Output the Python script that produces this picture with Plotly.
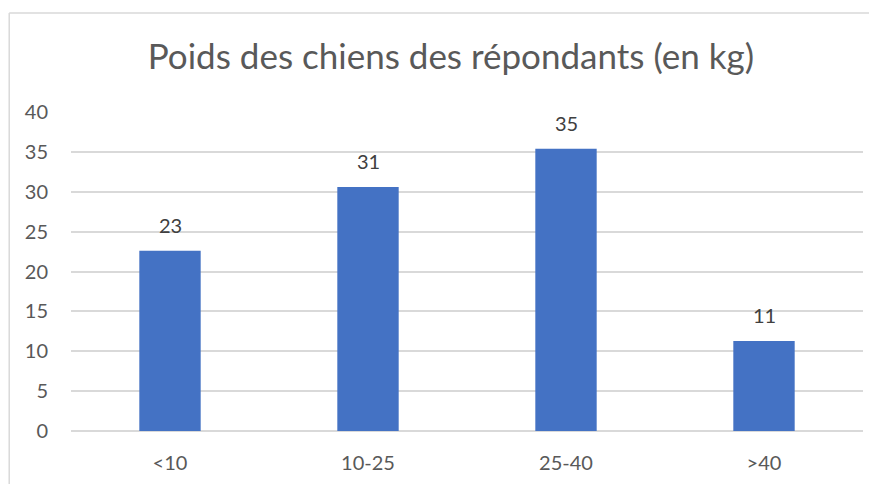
import plotly.graph_objects as go

categories = ["<10", "10-25", "25-40", ">40"]
values = [22.6, 30.6, 35.4, 11.3]
y_ticks = [0, 5, 10, 15, 20, 25, 30, 35, 40]

FONT = "Lato, Open Sans, sans-serif"

fig = go.Figure()
fig.add_trace(go.Bar(
    x=categories, y=values,
    marker=dict(color="#4472c4", line=dict(width=0)),
))

# data labels above each bar
for cat, val in zip(categories, values):
    fig.add_annotation(x=cat, y=val, text=f"{val:.0f}", showarrow=False,
                       yanchor="bottom", yshift=12,
                       font=dict(family=FONT, size=20, color="#404040"))

fig.update_layout(
    width=877, height=484,
    margin=dict(l=63, r=22, t=104, b=61),
    paper_bgcolor="white", plot_bgcolor="white",
    bargap=0.69,
    showlegend=False,
    title=dict(text="Poids des chiens des répondants (en kg)", x=0.505, xanchor="center",
               y=0.9, yanchor="middle",
               font=dict(family=FONT, size=35, color="#595959")),
    xaxis=dict(showgrid=False, showline=False, ticks="", ticklabelstandoff=18,
               tickfont=dict(family=FONT, size=20, color="#595959")),
    yaxis=dict(range=[0, 40], tickvals=y_ticks, showgrid=True, gridcolor="#d9d9d9",
               gridwidth=1.5, zeroline=True, zerolinecolor="#d9d9d9", zerolinewidth=1.5,
               ticks="", ticklabelstandoff=22,
               tickfont=dict(family=FONT, size=20, color="#595959")),
    shapes=[
        dict(type="line", xref="paper", yref="paper", x0=-0.078, x1=1.05, y0=1.31, y1=1.31,
             line=dict(color="#d9d9d9", width=1.5)),
        dict(type="line", xref="paper", yref="paper", x0=-0.078, x1=-0.078, y0=1.31, y1=-0.25,
             line=dict(color="#d9d9d9", width=1.5)),
    ],
)

fig.write_html("out.html")
